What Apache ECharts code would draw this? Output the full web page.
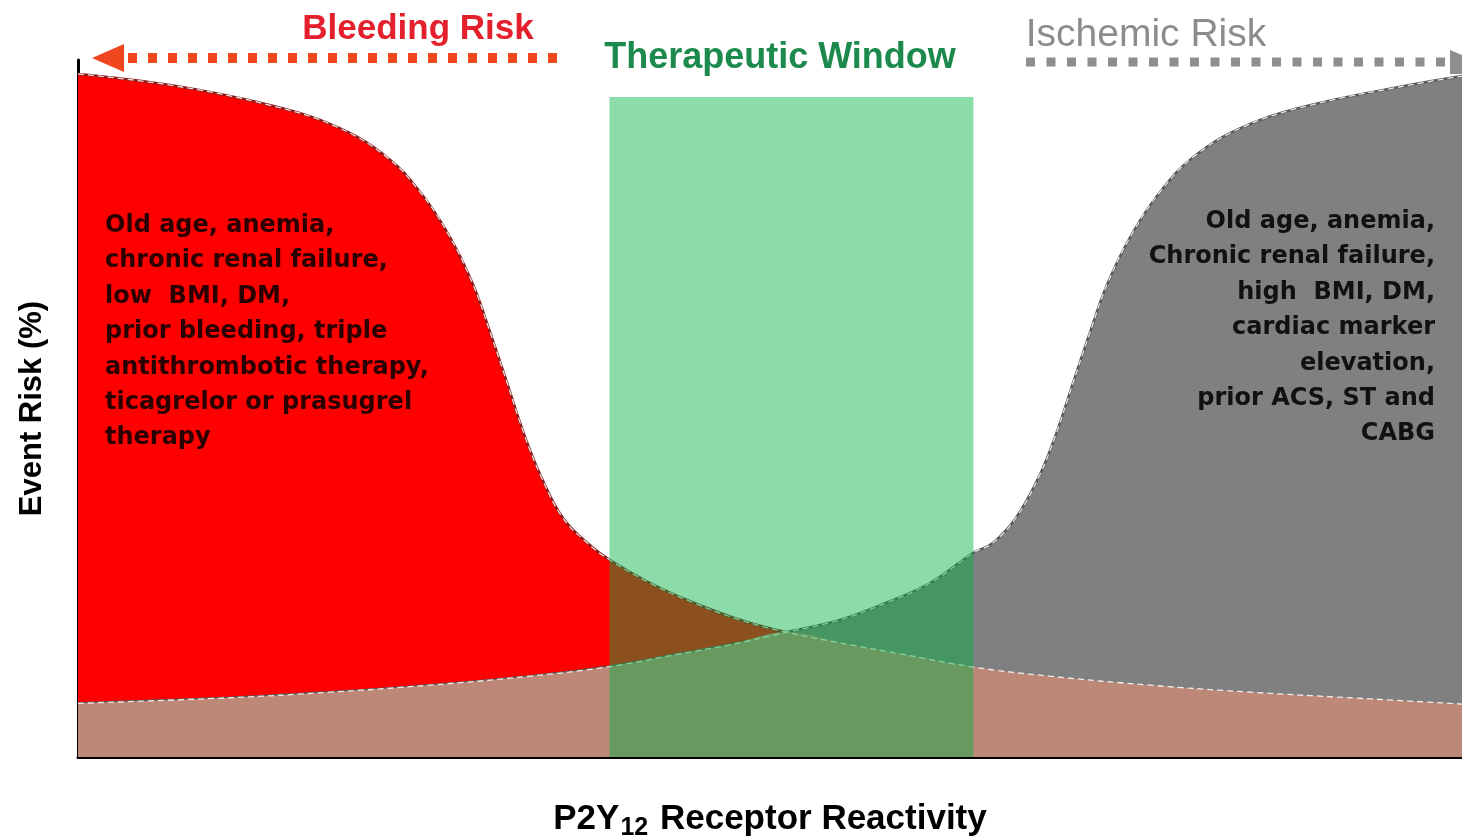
<!DOCTYPE html>
<html><head><meta charset="utf-8">
<script src="https://cdn.jsdelivr.net/npm/echarts@6/dist/echarts.min.js"></script>
<style>html,body{margin:0;padding:0;background:#fff}#c{width:1462px;height:836px}</style>
</head><body><div id="c"></div>
<script>
// ---- data (x: receptor reactivity 0-100, y: event risk 0-100) ----
const bleedingX = [0, 6.65, 13.9, 18.7, 22.3, 24.7, 26.7, 28.5, 29.8, 31.0, 32.2, 33.4, 35.0, 36.8, 38.4, 41.3, 44.4, 47.8, 51.2, 55.8, 59.4, 64.7, 70.2, 77.5, 84.7, 91.9, 100];
const bleedingY = [98.0, 96.4, 93.5, 90.4, 86.1, 81.1, 75.2, 68.0, 60.8, 53.7, 46.5, 40.5, 34.4, 30.7, 28.3, 25.0, 22.2, 19.7, 17.9, 16.1, 14.8, 12.9, 11.6, 10.3, 9.3, 8.5, 7.6];
const ischemicX = [0, 11.0, 18.2, 25.4, 32.7, 38.2, 43.5, 47.1, 51.2, 55.1, 58.5, 61.6, 64.7, 66.1, 67.8, 69.5, 70.7, 71.9, 73.1, 74.4, 76.2, 78.2, 80.6, 84.2, 89.0, 96.2, 100];
const ischemicY = [7.7, 8.5, 9.3, 10.3, 11.6, 12.9, 14.8, 16.1, 17.9, 19.7, 22.2, 25.0, 29.3, 30.7, 34.4, 40.5, 46.5, 53.7, 60.8, 68.0, 75.2, 81.1, 86.1, 90.4, 93.5, 96.4, 97.7];
const crossingX = 51.2;
const windowRange = [38.4, 64.7];
const windowTop = 94.7;
const leftNotes = ['Old age, anemia,', 'chronic renal failure,', 'low  BMI, DM,', 'prior bleeding, triple', 'antithrombotic therapy,', 'ticagrelor or prasugrel', 'therapy'];
const rightNotes = ['Old age, anemia,', 'Chronic renal failure,', 'high  BMI, DM,', 'cardiac marker', 'elevation,', 'prior ACS, ST and', 'CABG'];

const bleeding = bleedingX.map((x, i) => [x, bleedingY[i]]);
const ischemic = ischemicX.map((x, i) => [x, ischemicY[i]]);
const overlap = ischemic.filter(p => p[0] <= crossingX).concat(bleeding.filter(p => p[0] > crossingX));
const windowData = windowRange.map(x => [x, windowTop]);

const chart = echarts.init(document.getElementById('c'), null, {renderer: 'canvas'});
const SM = 0.4;
const base = {type: 'line', smooth: SM, symbol: 'none', silent: true, animation: false};
chart.setOption({
  animation: false,
  grid: {left: 78, right: 0, top: 60, bottom: 79, outerBoundsMode: 'none', containLabel: false},
  xAxis: {
    type: 'value', min: 0, max: 100,
    axisLine: {show: true, onZero: false, lineStyle: {color: '#000', width: 3}},
    axisTick: {show: false}, axisLabel: {show: false}, splitLine: {show: false},
    name: '{b|P2Y}{s|12}{b| Receptor Reactivity}', nameLocation: 'middle', nameGap: 40,
    nameTextStyle: {
      rich: {
        b: {fontFamily: 'Liberation Sans', fontWeight: 'bold', fontSize: 35, color: '#000', lineHeight: 44},
        s: {fontFamily: 'Liberation Sans', fontWeight: 'bold', fontSize: 25, color: '#000', lineHeight: 25, verticalAlign: 'bottom', padding: [0, 2, 0, 1]}
      }
    }
  },
  yAxis: {
    type: 'value', min: 0, max: 100,
    axisLine: {show: true, onZero: false, lineStyle: {color: '#000', width: 3}},
    axisTick: {show: false}, axisLabel: {show: false}, splitLine: {show: false},
    name: 'Event Risk (%)', nameLocation: 'middle', nameGap: 30, nameRotate: 90,
    nameTextStyle: {fontFamily: 'Liberation Sans', fontWeight: 'bold', fontSize: 31, color: '#000'}
  },
  series: [
    Object.assign({}, base, {name: 'Bleeding Risk', data: bleeding, z: 2,
      lineStyle: {color: '#8a1c1c', width: 2.5}, areaStyle: {color: '#FF0000', opacity: 1}}),
    Object.assign({}, base, {name: 'Ischemic Risk', data: ischemic, z: 3,
      lineStyle: {color: '#5a5a5a', width: 2.5}, areaStyle: {color: '#808080', opacity: 1}}),
    Object.assign({}, base, {name: 'Overlap', data: overlap, z: 4,
      lineStyle: {width: 0}, areaStyle: {color: '#BE8878', opacity: 1}}),
    Object.assign({}, base, {name: 'Bleeding edge', data: bleeding, z: 5,
      lineStyle: {color: 'rgba(255,255,255,0.85)', width: 1.3, type: [6, 4]}}),
    Object.assign({}, base, {name: 'Ischemic edge', data: ischemic, z: 5,
      lineStyle: {color: 'rgba(255,255,255,0.85)', width: 1.3, type: [6, 4]}}),
    Object.assign({}, base, {name: 'Therapeutic Window', data: windowData, smooth: false, z: 10,
      lineStyle: {width: 0}, areaStyle: {color: 'rgba(0,178,67,0.45)', opacity: 1}})
  ],
  graphic: [
    {type: 'line', silent: true, shape: {x1: 128, y1: 58, x2: 562, y2: 58}, style: {stroke: '#F0461E', lineWidth: 10, lineDash: [9, 11]}},
    {type: 'polygon', silent: true, shape: {points: [[92, 58], [124, 44], [124, 72]]}, style: {fill: '#F0461E'}},
    {type: 'line', silent: true, shape: {x1: 1026, y1: 62, x2: 1448, y2: 62}, style: {stroke: '#8E8E8E', lineWidth: 9, lineDash: [9, 11.5]}},
    {type: 'polygon', silent: true, shape: {points: [[1450, 50], [1462, 55], [1462, 74], [1450, 74]]}, style: {fill: '#8E8E8E'}},
    {type: 'text', silent: true, x: 418, y: 29, style: {text: 'Bleeding Risk', fill: '#E3202B', font: 'bold 35px "Liberation Sans", Arial', textAlign: 'center', textVerticalAlign: 'middle'}},
    {type: 'text', silent: true, x: 780, y: 58, style: {text: 'Therapeutic Window', fill: '#1B8A4C', font: 'bold 36px "Liberation Sans", Arial', textAlign: 'center', textVerticalAlign: 'middle'}},
    {type: 'text', silent: true, x: 1146, y: 35, style: {text: 'Ischemic Risk', fill: '#8C8C8C', font: '39px "Liberation Sans", Arial', textAlign: 'center', textVerticalAlign: 'middle'}},
    {type: 'text', silent: true, z: 20, x: 105, y: 208, style: {text: leftNotes.join('\n'), fill: '#2a0000', font: 'bold 24px "DejaVu Sans"', lineHeight: 35.4, textAlign: 'left', textVerticalAlign: 'top'}},
    {type: 'text', silent: true, z: 20, x: 1435, y: 204, style: {text: rightNotes.join('\n'), fill: '#111', font: 'bold 24px "DejaVu Sans"', lineHeight: 35.4, textAlign: 'right', textVerticalAlign: 'top'}}
  ]
});
</script>
</body></html>
